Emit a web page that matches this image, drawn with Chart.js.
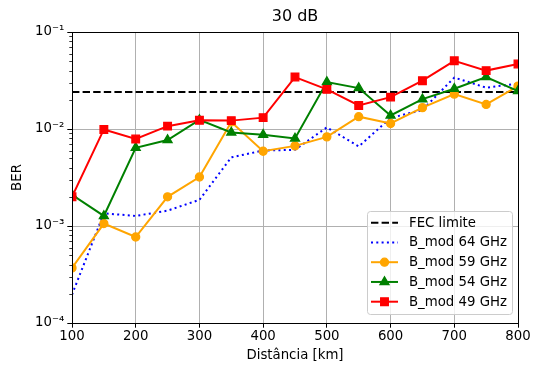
<!DOCTYPE html>
<html>
<head>
<meta charset="utf-8">
<script src="https://cdn.jsdelivr.net/npm/chart.js@4/dist/chart.umd.min.js"></script>
<style>
  html, body { margin: 0; padding: 0; background: #fff; }
  #wrap { width: 538px; height: 365px; }
</style>
</head>
<body>
<div id="wrap"><canvas id="chart"></canvas></div>
<script>
const distances = [100, 150, 200, 250, 300, 350, 400, 450, 500, 550, 600, 650, 700, 750, 800];
const fecLimit = 0.024;
const ber64 = [0.000196, 0.00135, 0.00127, 0.00144, 0.00186, 0.0051, 0.0060, 0.0061, 0.0104, 0.0066, 0.0130, 0.0157, 0.0339, 0.0267, 0.0293];
const ber59 = [0.00037, 0.00106, 0.00077, 0.0020, 0.0032, 0.0118, 0.0059, 0.0067, 0.0083, 0.0134, 0.0114, 0.0166, 0.0229, 0.0179, 0.0277];
const ber54 = [0.0021, 0.00127, 0.0064, 0.0077, 0.0124, 0.0092, 0.0087, 0.0080, 0.0305, 0.0264, 0.0138, 0.0203, 0.0260, 0.0343, 0.0246];
const ber49 = [0.0020, 0.0099, 0.0079, 0.0107, 0.0123, 0.0122, 0.0131, 0.0343, 0.0256, 0.0175, 0.0213, 0.0315, 0.0505, 0.0400, 0.0468];
const yMajorTicks = [1e-4, 1e-3, 1e-2, 1e-1];
const yTickLabels = ['10\u207B\u2074', '10\u207B\u00B3', '10\u207B\u00B2', '10\u207B\u00B9'];

const FONT = 'DejaVu Sans';
const FS = 13.3;
const toPoints = (vals) => vals.map((v, i) => ({ x: distances[i], y: v }));
const isMajor = (v) => yMajorTicks.some((m) => Math.abs(v / m - 1) < 1e-6);

const series = [
  { label: 'FEC limite', data: [{ x: 100, y: fecLimit }, { x: 800, y: fecLimit }], color: '#000000', dash: [7.4, 3.2], marker: false, order: 4 },
  { label: 'B_mod 64 GHz', data: toPoints(ber64), color: '#0000ff', dash: [2, 3.3], marker: false, order: 3 },
  { label: 'B_mod 59 GHz', data: toPoints(ber59), color: '#ffa500', dash: [], marker: 'circle', radius: 4, order: 2 },
  { label: 'B_mod 54 GHz', data: toPoints(ber54), color: '#008000', dash: [], marker: 'triangle', radius: 5.2, order: 1 },
  { label: 'B_mod 49 GHz', data: toPoints(ber49), color: '#ff0000', dash: [], marker: 'rect', radius: 5.4, order: 0 },
];

const datasets = series.map((s) => ({
  label: s.label,
  data: s.data,
  borderColor: s.color,
  backgroundColor: s.color,
  borderWidth: 2,
  borderDash: s.dash,
  pointStyle: s.marker || 'circle',
  pointRadius: s.marker ? s.radius : 0,
  pointBorderWidth: 1.3,
  pointHoverRadius: s.marker ? s.radius : 0,
  tension: 0,
  order: s.order,
}));

const extras = {
  id: 'extras',
  afterDraw(chart) {
    const { ctx, chartArea: a, scales } = chart;
    ctx.save();
    // title
    ctx.fillStyle = '#000';
    ctx.font = `16px "${FONT}"`;
    ctx.textAlign = 'center';
    ctx.textBaseline = 'middle';
    ctx.fillText('30 dB', (a.left + a.right) / 2, 17);

    // minor ticks on the log axis
    ctx.strokeStyle = '#000';
    ctx.lineWidth = 0.8;
    scales.y.ticks.forEach((t) => {
      if (isMajor(t.value)) return;
      const py = Math.round(scales.y.getPixelForValue(t.value)) + 0.5;
      ctx.beginPath();
      ctx.moveTo(a.left, py);
      ctx.lineTo(a.left - 2.7, py);
      ctx.stroke();
    });

    // frame
    ctx.lineWidth = 1;
    ctx.strokeRect(Math.round(a.left) + 0.5, Math.round(a.top) + 0.5,
      Math.round(a.right) - Math.round(a.left), Math.round(a.bottom) - Math.round(a.top));

    // legend
    const lx = 367, ly = 211, lw = 145, lh = 103;
    ctx.beginPath();
    ctx.roundRect(lx + 0.5, ly + 0.5, lw, lh, 3);
    ctx.fillStyle = 'rgba(255,255,255,0.8)';
    ctx.fill();
    ctx.strokeStyle = '#cccccc';
    ctx.stroke();
    ctx.font = `${FS}px "${FONT}"`;
    ctx.textAlign = 'left';
    series.forEach((s, i) => {
      const cy = 222.7 + i * 19.75;
      ctx.strokeStyle = s.color;
      ctx.fillStyle = s.color;
      ctx.lineWidth = 2;
      ctx.setLineDash(s.dash);
      ctx.beginPath();
      ctx.moveTo(371, cy);
      ctx.lineTo(398, cy);
      ctx.stroke();
      ctx.setLineDash([]);
      if (s.marker) {
        ctx.lineWidth = 1.3;
        Chart.helpers.drawPoint(ctx, { pointStyle: s.marker, radius: s.radius, borderWidth: 1.3, rotation: 0 }, 384.5, cy);
      }
      ctx.fillStyle = '#000';
      ctx.fillText(s.label, 409, cy + 0.5);
    });
    ctx.restore();
  },
};

new Chart(document.getElementById('chart'), {
  type: 'line',
  data: { datasets },
  plugins: [extras],
  options: {
    responsive: true,
    maintainAspectRatio: false,
    animation: false,
    events: [],
    layout: { padding: { top: 32, right: 20, left: 0, bottom: 0 } },
    plugins: {
      legend: { display: false },
      tooltip: { enabled: false },
      title: { display: false },
    },
    scales: {
      x: {
        type: 'linear',
        min: 100,
        max: 800,
        afterFit: (scale) => { scale.height = 42; },
        ticks: {
          stepSize: 100,
          color: '#000',
          padding: 1,
          maxRotation: 0,
          font: { family: FONT, size: FS },
        },
        grid: { color: '#b0b0b0', lineWidth: 1, tickColor: '#000', tickLength: 4.7 },
        border: { color: '#000', width: 1 },
        title: {
          display: true,
          text: 'Distância [km]',
          color: '#000',
          font: { family: FONT, size: FS },
          padding: { top: 0, bottom: 1 },
        },
      },
      y: {
        type: 'logarithmic',
        min: 1e-4,
        max: 1e-1,
        afterFit: (scale) => { scale.width = 72; },
        afterBuildTicks: (scale) => {
          const ticks = [];
          for (let d = -4; d < -1; d++) {
            for (let m = 1; m < 10; m++) ticks.push({ value: m * Math.pow(10, d) });
          }
          ticks.push({ value: 0.1 });
          scale.ticks = ticks;
        },
        ticks: {
          color: '#000',
          padding: 3,
          autoSkip: false,
          font: { family: FONT, size: FS },
          callback: (v) => {
            const i = yMajorTicks.findIndex((m) => Math.abs(v / m - 1) < 1e-6);
            return i >= 0 ? yTickLabels[i] : '';
          },
        },
        grid: {
          color: (c) => (c.tick && isMajor(c.tick.value) ? '#b0b0b0' : 'rgba(0,0,0,0)'),
          tickColor: (c) => (c.tick && isMajor(c.tick.value) ? '#000' : 'rgba(0,0,0,0)'),
          lineWidth: 1,
          tickLength: 4.7,
        },
        border: { color: '#000', width: 1 },
        title: {
          display: true,
          text: 'BER',
          color: '#000',
          font: { family: FONT, size: FS },
          padding: { top: 10, bottom: 0 },
        },
      },
    },
  },
});
</script>
</body>
</html>
